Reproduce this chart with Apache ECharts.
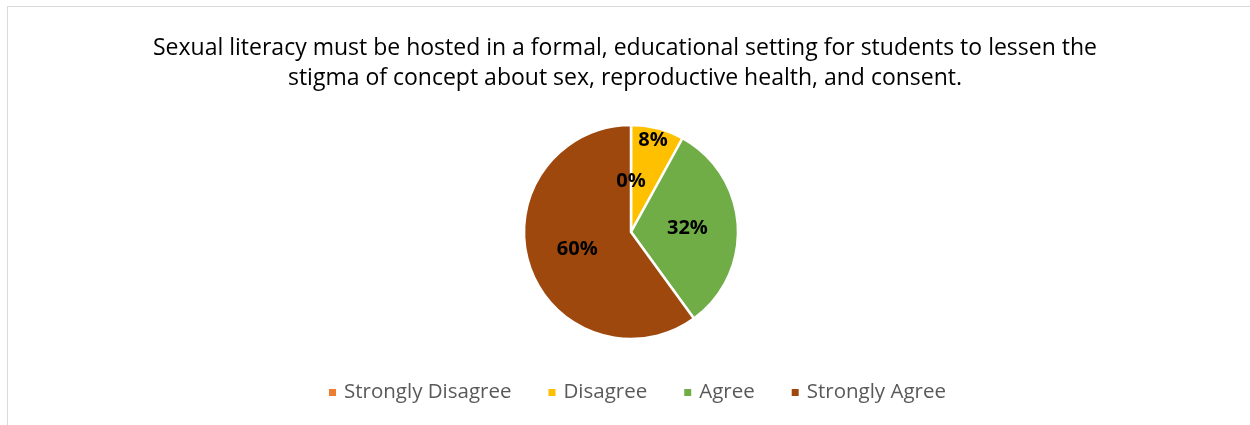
<!DOCTYPE html>
<html>
<head>
<meta charset="utf-8">
<script src="https://cdn.jsdelivr.net/npm/echarts@6/dist/echarts.min.js"></script>
<style>
  html, body { margin: 0; padding: 0; background: #fff; }
  #frame { position: absolute; left: 7px; top: 6px; width: 1260px; height: 440px; border: 1px solid #d9d9d9; box-sizing: border-box; }
  #chart { position: absolute; left: 0; top: 0; width: 1250px; height: 425px; }
</style>
</head>
<body>
<div id="frame"></div>
<div id="chart"></div>
<script>
// 问卷结果
const titleLines = [
  'Sexual literacy must be hosted in a formal, educational setting for students to lessen the',
  'stigma of concept about sex, reproductive health, and consent.'
];
const categories = ['Strongly Disagree', 'Disagree', 'Agree', 'Strongly Agree'];
const values = [0, 8, 32, 60];
const colors = ['#ED7D31', '#FFC000', '#70AD47', '#9E480E'];

let chart = echarts.init(document.getElementById('chart'));
let pieData = [];
for (let i = 0; i < categories.length; i++) {
  pieData.push({ name: categories[i], value: values[i] });
}

let option = {
  color: colors,
  animation: false,
  title: {
    text: titleLines.join('\n'),
    left: 'center',
    top: 28,
    textStyle: {
      fontFamily: 'Open Sans',
      fontSize: 23,
      fontWeight: 'normal',
      color: '#000',
      lineHeight: 30
    }
  },
  legend: {
    data: categories,
    bottom: 17,
    left: 322,
    icon: 'rect',
    itemWidth: 9,
    itemHeight: 9,
    itemGap: 35,
    textStyle: {
      fontFamily: 'Open Sans',
      fontSize: 20.5,
      color: '#595959',
      padding: [0, 0, 0, 2]
    }
  },
  series: [
    {
      type: 'pie',
      center: [631, 232],
      radius: 107,
      startAngle: 90,
      clockwise: true,
      stillShowZeroSum: true,
      minShowLabelAngle: 0,
      itemStyle: {
        borderColor: '#fff',
        borderWidth: 2.5
      },
      label: {
        show: true,
        position: 'inside',
        formatter: '{c}%',
        fontFamily: 'Open Sans',
        fontSize: 20,
        fontWeight: 'bold',
        color: '#000'
      },
      labelLayout: function (p) {
        if (p.dataIndex === 1) return { dx: 8, dy: -37 };
        if (p.dataIndex === 0) return { dy: 6 };
        return {};
      },
      emphasis: { disabled: true },
      data: pieData
    }
  ]
};
chart.setOption(option);
</script>
</body>
</html>
